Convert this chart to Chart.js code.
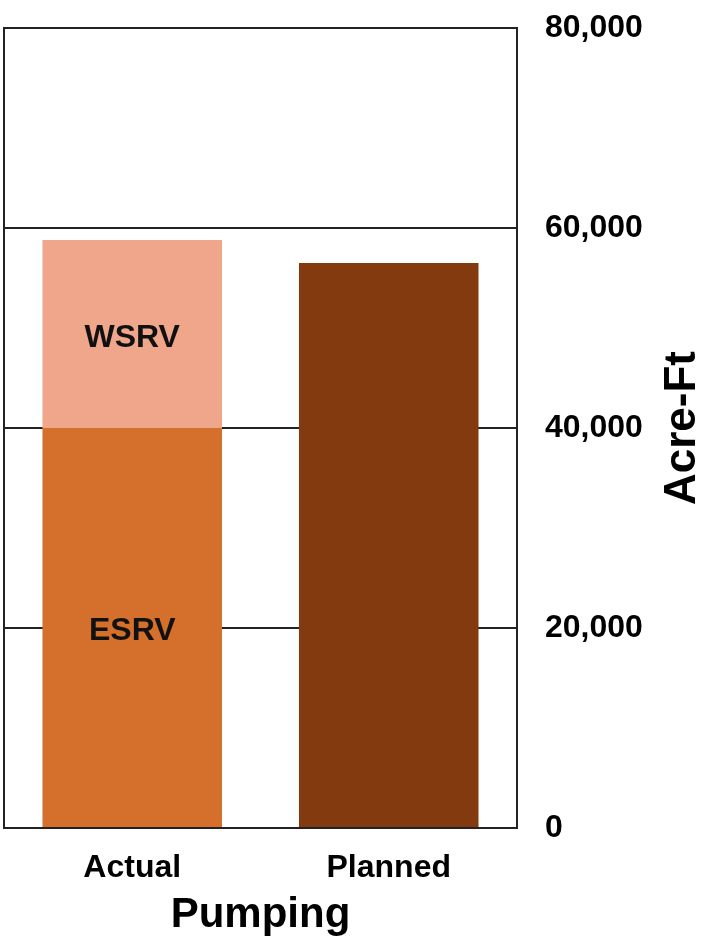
<!DOCTYPE html>
<html>
<head>
<meta charset="utf-8">
<script src="https://cdn.jsdelivr.net/npm/chart.js@4"></script>
<style>
  html, body { margin: 0; padding: 0; background: #fff; }
  #wrap { width: 719px; height: 948px; }
</style>
</head>
<body>
<div id="wrap"><canvas id="chart"></canvas></div>
<script>
const categories = ["Actual", "Planned"];
const esrvValues = [40000, null];
const wsrvValues = [18800, null];
const plannedValues = [null, 56500];
const yTicks = [0, 20000, 40000, 60000, 80000];

const FONT = "'Liberation Sans', Arial, sans-serif";

// draws the box round the plot, the labels inside the bars and the rotated y title
const extras = {
  id: "extras",
  afterDatasetsDraw(chart) {
    const ctx = chart.ctx;
    const area = chart.chartArea;
    ctx.save();
    ctx.strokeStyle = "#222";
    ctx.lineWidth = 2;
    ctx.strokeRect(area.left, area.top, area.right - area.left, area.bottom - area.top);

    ctx.fillStyle = "#111";
    ctx.font = "bold 32px " + FONT;
    ctx.textAlign = "center";
    ctx.textBaseline = "middle";
    chart.data.datasets.forEach((ds, i) => {
      if (!ds.segLabel) return;
      const meta = chart.getDatasetMeta(i);
      meta.data.forEach((bar, j) => {
        if (ds.data[j] == null) return;
        ctx.fillText(ds.segLabel, bar.x, (bar.y + bar.base) / 2 + 4);
      });
    });

    ctx.translate(683, (area.top + area.bottom) / 2);
    ctx.rotate(-Math.PI / 2);
    ctx.font = "bold 44px " + FONT;
    ctx.fillStyle = "#000";
    ctx.fillText("Acre-Ft", 0, 0);
    ctx.restore();
  }
};

new Chart(document.getElementById("chart"), {
  type: "bar",
  data: {
    labels: categories,
    datasets: [
      { label: "ESRV", segLabel: "ESRV", data: esrvValues, backgroundColor: "#D4702B", stack: "s" },
      { label: "WSRV", segLabel: "WSRV", data: wsrvValues, backgroundColor: "#F0A68A", stack: "s" },
      { label: "Planned", data: plannedValues, backgroundColor: "#843A0F", stack: "s" }
    ]
  },
  options: {
    responsive: true,
    maintainAspectRatio: false,
    animation: false,
    layout: { padding: { left: 4, top: 28, right: 0, bottom: 0 } },
    plugins: { legend: { display: false }, tooltip: { enabled: false } },
    datasets: { bar: { categoryPercentage: 0.7, barPercentage: 1.0 } },
    scales: {
      x: {
        stacked: true,
        grid: { display: false },
        border: { display: false },
        ticks: { color: "#000", padding: 13, font: { family: FONT, size: 32, weight: "bold" } },
        title: {
          display: true,
          text: "Pumping",
          color: "#000",
          padding: { top: 0, bottom: 7 },
          font: { family: FONT, size: 42, weight: "bold" }
        },
        afterFit(scale) { scale.height = 120; }
      },
      y: {
        stacked: true,
        position: "right",
        min: 0,
        max: 80000,
        afterBuildTicks(scale) { scale.ticks = yTicks.map(v => ({ value: v })); },
        grid: { color: "#222", lineWidth: 2, drawTicks: false },
        border: { display: false },
        ticks: {
          color: "#000",
          padding: 28,
          font: { family: FONT, size: 32, weight: "bold" },
          callback: v => v.toLocaleString("en-US")
        },
        afterFit(scale) {
          scale.width = 202;
          scale.paddingTop = 0;
          scale.paddingBottom = 0;
        }
      }
    }
  },
  plugins: [extras]
});
</script>
</body>
</html>
